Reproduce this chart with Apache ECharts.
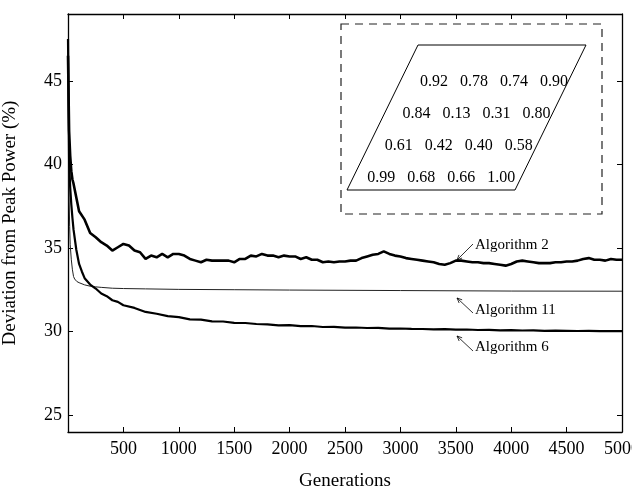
<!DOCTYPE html>
<html>
<head>
<meta charset="utf-8">
<script src="https://cdn.jsdelivr.net/npm/echarts@6/dist/echarts.min.js"></script>
<style>
  html, body { margin: 0; padding: 0; background: #fff; }
  #graph { width: 632px; height: 494px; }
</style>
</head>
<body>
<div id="graph"></div>
<script>
// y ticks (labels only at these)
let yTicks = [25, 30, 35, 40, 45];

// Algorithm 2 (noisy, top)
let gens2 = [0, 10, 20, 30, 40,
    50, 100, 150, 200, 250, 300, 350, 400, 450, 500,
    550, 600, 650, 700, 750, 800, 850, 900, 950, 1000,
    1050, 1100, 1150, 1200, 1250, 1300, 1350, 1400, 1450, 1500,
    1550, 1600, 1650, 1700, 1750, 1800, 1850, 1900, 1950, 2000,
    2050, 2100, 2150, 2200, 2250, 2300, 2350, 2400, 2450, 2500,
    2550, 2600, 2650, 2700, 2750, 2800, 2850, 2900, 2950, 3000,
    3050, 3100, 3150, 3200, 3250, 3300, 3350, 3400, 3450, 3500,
    3550, 3600, 3650, 3700, 3750, 3800, 3850, 3900, 3950, 4000,
    4050, 4100, 4150, 4200, 4250, 4300, 4350, 4400, 4450, 4500,
    4550, 4600, 4650, 4700, 4750, 4800, 4850, 4900, 4950, 5000];
let alg2 = [46.5, 42.0, 40.5, 39.6, 39.1,
    38.85, 37.2, 36.7, 35.9, 35.65, 35.35, 35.15, 34.85, 35.05, 35.25,
    35.15, 34.85, 34.75, 34.35, 34.55, 34.45, 34.65, 34.45, 34.65, 34.65,
    34.55, 34.35, 34.25, 34.15, 34.3, 34.25, 34.25, 34.25, 34.25, 34.15,
    34.35, 34.35, 34.55, 34.5, 34.65, 34.55, 34.55, 34.45, 34.55, 34.5,
    34.5, 34.35, 34.45, 34.3, 34.3, 34.15, 34.2, 34.15, 34.2, 34.2,
    34.25, 34.25, 34.4, 34.5, 34.6, 34.65, 34.8, 34.65, 34.55, 34.5,
    34.4, 34.35, 34.3, 34.25, 34.2, 34.15, 34.05, 34.0, 34.1, 34.25,
    34.25, 34.2, 34.15, 34.15, 34.1, 34.1, 34.05, 34.0, 33.95, 34.05,
    34.2, 34.25, 34.2, 34.15, 34.1, 34.1, 34.1, 34.15, 34.15, 34.2,
    34.2, 34.25, 34.35, 34.4, 34.3, 34.3, 34.25, 34.35, 34.3, 34.3];

// Algorithm 11 (smooth, thin)
let gens11 = [0, 5, 10, 15, 20, 30, 40, 50, 60, 80, 100, 150, 200, 250, 300,
    400, 500, 700, 1000, 1500, 2000, 3000, 4000, 5000];
let alg11 = [46.0, 41.0, 38.0, 36.3, 35.2, 34.3, 33.7, 33.3, 33.15, 33.0, 32.93, 32.8, 32.72, 32.68, 32.65,
    32.6, 32.58, 32.56, 32.53, 32.51, 32.49, 32.46, 32.43, 32.42];

// Algorithm 6 (slow decay)
let gens6 = [0, 10, 20, 30, 40, 50, 75, 100, 125, 150, 200, 250, 300, 350, 400, 450, 500,
    600, 700, 800, 900, 1000, 1100, 1200, 1300, 1400, 1500, 1600, 1700, 1800, 1900, 2000,
    2100, 2200, 2300, 2400, 2500, 2600, 2700, 2800, 2900, 3000, 3100, 3200, 3300, 3400, 3500,
    3600, 3700, 3800, 3900, 4000, 4100, 4200, 4300, 4400, 4500, 4600, 4700, 4800, 4900, 5000];
let alg6 = [47.5, 40.2, 38.6, 37.6, 36.8, 36.1, 34.9, 34.05, 33.6, 33.2, 32.82, 32.58, 32.28, 32.12, 31.88, 31.78, 31.58,
    31.42, 31.18, 31.07, 30.93, 30.87, 30.74, 30.72, 30.62, 30.61, 30.53, 30.52, 30.46, 30.44, 30.38, 30.39,
    30.33, 30.34, 30.28, 30.29, 30.24, 30.25, 30.22, 30.23, 30.18, 30.19, 30.17, 30.16, 30.14, 30.15, 30.12,
    30.13, 30.1, 30.11, 30.08, 30.09, 30.07, 30.08, 30.05, 30.06, 30.05, 30.04, 30.05, 30.03, 30.04, 30.03];

// inset table
let insetValues = [
    [0.92, 0.78, 0.74, 0.90],
    [0.84, 0.13, 0.31, 0.80],
    [0.61, 0.42, 0.40, 0.58],
    [0.99, 0.68, 0.66, 1.00]
];

let seriesNames = ["Algorithm 2", "Algorithm 11", "Algorithm 6"];

function pairs(xs, ys) {
    let out = [];
    for (let i = 0; i < xs.length; i++) out.push([xs[i], ys[i]]);
    return out;
}

let font = "'Liberation Serif', serif";
let myChart = echarts.init(document.getElementById('graph'));

// inset graphic: dashed box, parallelogram, numbers
let graphics = [];
graphics.push({
    type: 'rect', shape: {x: 341, y: 24, width: 261, height: 190},
    style: {fill: 'none', stroke: '#222', lineWidth: 1.2, lineDash: [8, 6]}, z: 10
});
graphics.push({
    type: 'polygon', shape: {points: [[418, 45], [586, 45], [515, 190], [347, 190]]},
    style: {fill: 'none', stroke: '#000', lineWidth: 1}, z: 10
});
for (let r = 0; r < insetValues.length; r++) {
    for (let c = 0; c < insetValues[r].length; c++) {
        graphics.push({
            type: 'text', x: 434 - r * 17.6 + c * 40, y: 82 + r * 32, z: 11,
            style: {text: insetValues[r][c].toFixed(2), font: "16px " + font, fill: '#000',
                textAlign: 'center', textVerticalAlign: 'middle'}
        });
    }
}

// annotation arrows: tip on the curve, tail at the label
function arrow(tip, tail) {
    let dx = tail[0] - tip[0], dy = tail[1] - tip[1];
    let len = Math.sqrt(dx * dx + dy * dy);
    let ux = dx / len, uy = dy / len;
    let s = 5, w = 2.2;
    let p1 = [tip[0] + ux * s - uy * w, tip[1] + uy * s + ux * w];
    let p2 = [tip[0] + ux * s + uy * w, tip[1] + uy * s - ux * w];
    graphics.push({type: 'line', shape: {x1: tip[0], y1: tip[1], x2: tail[0], y2: tail[1]},
        style: {stroke: '#000', lineWidth: 0.8}, z: 10});
    graphics.push({type: 'polyline', shape: {points: [p1, tip, p2]},
        style: {stroke: '#000', lineWidth: 0.8, fill: 'none'}, z: 10});
}
arrow([457, 260], [473, 244]);
arrow([457, 298], [473, 313]);
arrow([457, 336], [473, 351]);
let labelY = [245, 310, 347];
for (let i = 0; i < seriesNames.length; i++) {
    graphics.push({
        type: 'text', x: 475, y: labelY[i], z: 11,
        style: {text: seriesNames[i], font: "15px " + font, fill: '#000',
            textAlign: 'left', textVerticalAlign: 'middle'}
    });
}

let axisLineStyle = {color: '#000', width: 1.3};
let option = {
    animation: false,
    backgroundColor: '#fff',
    grid: {left: 68, right: 10, top: 14, bottom: 62, containLabel: false, outerBoundsMode: 'none'},
    xAxis: [{
        type: 'value', min: 0, max: 5000, interval: 500, position: 'bottom',
        axisLine: {show: true, onZero: false, lineStyle: axisLineStyle},
        axisTick: {show: true, inside: true, length: 5, lineStyle: {color: '#000'}},
        axisLabel: {color: '#000', fontFamily: font, fontSize: 18, margin: 8,
            formatter: function (v) { return v === 0 ? '' : String(v); }},
        splitLine: {show: false},
        name: 'Generations', nameLocation: 'middle', nameGap: 40,
        nameTextStyle: {color: '#000', fontFamily: font, fontSize: 19}
    }, {
        type: 'value', min: 0, max: 5000, interval: 500, position: 'top',
        axisLine: {show: true, onZero: false, lineStyle: axisLineStyle},
        axisTick: {show: true, inside: true, length: 5, lineStyle: {color: '#000'}},
        axisLabel: {show: false},
        splitLine: {show: false}
    }],
    yAxis: [{
        type: 'value', min: 24, max: 49, position: 'left',
        axisLine: {show: true, onZero: false, lineStyle: axisLineStyle},
        axisTick: {show: true, inside: true, length: 5, customValues: yTicks, lineStyle: {color: '#000'}},
        axisLabel: {color: '#000', fontFamily: font, fontSize: 18, margin: 6, customValues: yTicks},
        splitLine: {show: false},
        name: 'Deviation from Peak Power (%)', nameLocation: 'middle', nameGap: 48,
        nameTextStyle: {color: '#000', fontFamily: font, fontSize: 19}
    }, {
        type: 'value', min: 24, max: 49, position: 'right',
        axisLine: {show: true, onZero: false, lineStyle: axisLineStyle},
        axisTick: {show: true, inside: true, length: 5, customValues: yTicks, lineStyle: {color: '#000'}},
        axisLabel: {show: false},
        splitLine: {show: false}
    }],
    series: [{
        name: seriesNames[0], type: 'line', showSymbol: false, xAxisIndex: 0, yAxisIndex: 0,
        data: pairs(gens2, alg2),
        lineStyle: {color: '#000', width: 2.6}
    }, {
        name: seriesNames[1], type: 'line', showSymbol: false, xAxisIndex: 0, yAxisIndex: 0,
        data: pairs(gens11, alg11),
        lineStyle: {color: '#222', width: 1}
    }, {
        name: seriesNames[2], type: 'line', showSymbol: false, xAxisIndex: 0, yAxisIndex: 0,
        data: pairs(gens6, alg6),
        lineStyle: {color: '#000', width: 2.2}
    }],
    graphic: graphics
};
myChart.setOption(option);
</script>
</body>
</html>
